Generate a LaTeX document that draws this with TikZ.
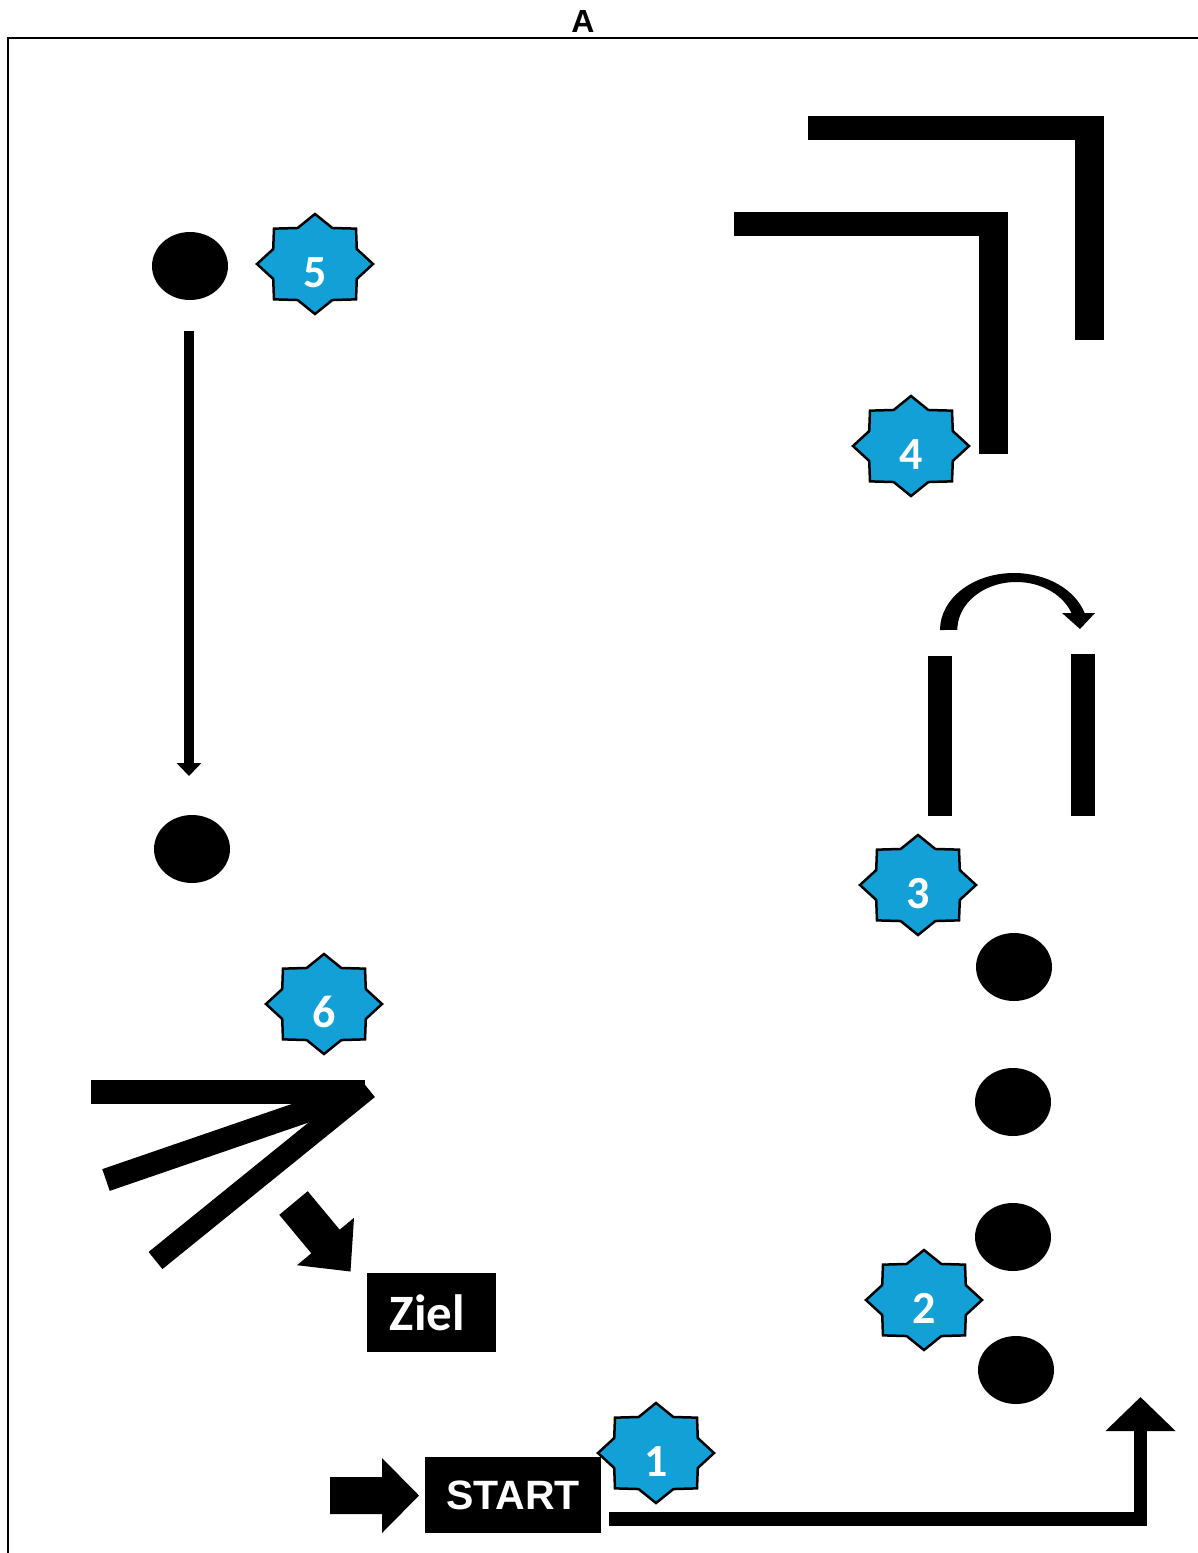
\documentclass[tikz,border=0pt]{standalone}
\usepackage{fontspec}
\newfontfamily\calfont{Carlito}
\newfontfamily\arialfont{Liberation Sans}
\usetikzlibrary{shapes.geometric,arrows.meta}
\definecolor{starblue}{RGB}{18,160,215}
\newcommand{\bluestar}[4]{%
  \begin{scope}[shift={(#2,#3)}, xscale=1.16]
    \draw[starline] (90:50) \foreach \i in {1,...,15}{ -- ({90+22.5*\i}:{ifthenelse(mod(\i,2)==0,50,39)}) } -- cycle;
  \end{scope}
  \node[numlabel] (#1) at (#2,#3+23) {#4};
}
\begin{document}
\begin{tikzpicture}[x=1pt,y=-1pt,
  starline/.style={draw=black, line width=2.5pt, fill=starblue, line join=miter},
  numlabel/.style={text=white, font=\calfont\bfseries\fontsize{46}{50}\selectfont, anchor=base, inner sep=0pt},
  blackdot/.style={ellipse, fill=black, minimum width=76pt, minimum height=68pt, inner sep=0pt},
  blackbox/.style={rectangle, fill=black, inner sep=0pt},
  boldline/.style={line width=#1, line cap=butt, line join=miter},
]
\useasboundingbox (0,0) rectangle (1198,1553);
\fill[white] (0,0) rectangle (1198,1553);

% frame and title
\draw[line width=2pt] (8,1553) -- (8,38) -- (1198,38);
\node[font=\arialfont\bfseries\fontsize{32}{36}\selectfont, anchor=base, inner sep=0pt] (title) at (583,32) {A};

% dots
\node[blackdot] (d5) at (190,266) {};
\node[blackdot] (d5b) at (192,849) {};
\node[blackdot] (d3a) at (1014,967) {};
\node[blackdot] (d3b) at (1013,1102) {};
\node[blackdot] (d3c) at (1013,1237) {};
\node[blackdot] (d3d) at (1016,1370) {};

% long vertical arrow
\coordinate (v1) at (189,331);
\coordinate (v2) at (189,776);
\draw[boldline=10pt, -{Triangle[length=13pt,width=24pt]}] (v1) -- (v2);

% L shapes top right
\fill (808,116) rectangle (1082,140);
\fill (1075,116) rectangle (1104,340);
\fill (734,212) rectangle (1008,236);
\fill (979,212) rectangle (1008,454);

% curved arrow
\fill (940,630) arc[start angle=180, end angle=342.7, x radius=74, y radius=57]
  -- (1071.5,613) arc[start angle=339.3, end angle=180, x radius=59, y radius=48] -- cycle;
\fill (1062,613) -- (1095,613) -- (1080,629) -- cycle;

% two vertical bars
\fill (928,656) rectangle (952,816);
\fill (1071,654) rectangle (1095,816);

% fan lines
\draw[boldline=24pt] (91,1092) -- (365,1092);
\draw[boldline=23pt] (106,1180) -- (362,1092);
\draw[boldline=22pt] (155.5,1260.5) -- (368,1088.5);

% block arrow toward Ziel
\fill (279.3,1214.8) -- (307.7,1191.2) -- (339.7,1229.7) -- (354,1217.8) -- (350.5,1271.5) -- (297,1265.2) -- (311.3,1253.3) -- cycle;

% Ziel box
\node[blackbox, minimum width=129pt, minimum height=79pt, text=white,
  font=\calfont\bfseries\fontsize{51}{55}\selectfont] (ziel) at (431.5,1312.5) {\hspace*{-8pt}Ziel};

% START arrow and box
\fill (330,1477) -- (382,1477) -- (382,1458) -- (419,1495.5) -- (382,1533) -- (382,1514) -- (330,1514) -- cycle;
\node[blackbox, minimum width=176pt, minimum height=76pt, text=white,
  font=\arialfont\bfseries\fontsize{41}{45}\selectfont] (start) at (513,1495) {START};

% connector from START
\coordinate (s1) at (609,1519);
\coordinate (s2) at (1140.5,1397);
\draw[boldline=13.5pt, -{Triangle[length=34pt,width=68pt]}] (s1) -- (s1 -| s2) -- (s2);

% stars
\bluestar{n5}{315}{264}{5}
\bluestar{n4}{911}{446}{4}
\bluestar{n3}{918}{885}{3}
\bluestar{n6}{324}{1004}{6}
\bluestar{n2}{924}{1300}{2}
\bluestar{n1}{656}{1453}{1}
\end{tikzpicture}
\end{document}
